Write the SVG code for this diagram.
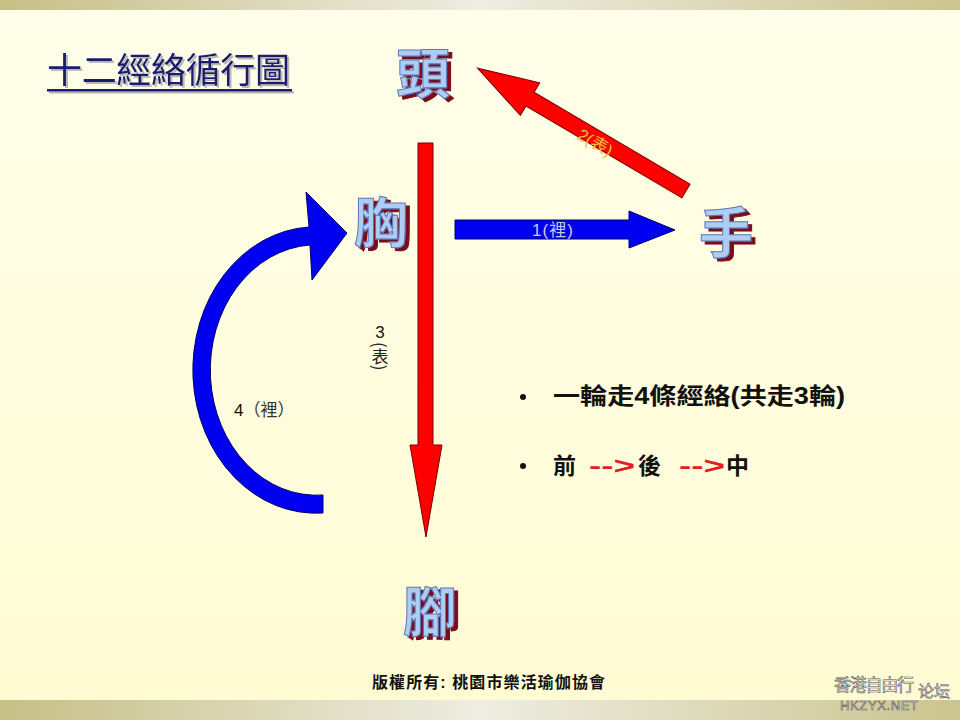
<svg xmlns="http://www.w3.org/2000/svg" width="960" height="720" viewBox="0 0 960 720">
<defs>
<linearGradient id="bg" x1="0" y1="0" x2="0" y2="1">
<stop offset="0" stop-color="#fefeea"/>
<stop offset="1" stop-color="#fffbd2"/>
</linearGradient>
<linearGradient id="bar" x1="0" y1="0" x2="1" y2="0">
<stop offset="0" stop-color="#c6bf86"/>
<stop offset="0.5" stop-color="#eeede2"/>
<stop offset="1" stop-color="#cbc48e"/>
</linearGradient>
<filter id="sh" x="-10%" y="-10%" width="130%" height="130%">
<feOffset dx="1.5" dy="1.5" in="SourceAlpha" result="o"/>
<feFlood flood-color="#8a8a9a" flood-opacity="0.6"/>
<feComposite in2="o" operator="in"/>
<feMerge><feMergeNode/><feMergeNode in="SourceGraphic"/></feMerge>
</filter>
<filter id="redsh" x="-20%" y="-20%" width="150%" height="150%">
<feOffset dx="4" dy="3" in="SourceAlpha" result="o"/>
<feFlood flood-color="#7a0a1e"/>
<feComposite in2="o" operator="in"/>
<feMerge><feMergeNode/><feMergeNode in="SourceGraphic"/></feMerge>
</filter>
</defs>
<style>
.big{font-family:"Noto Sans CJK TC","Noto Sans CJK SC",sans-serif;font-size:54px;font-weight:700;fill:#aecdf2;stroke:#5b78b8;stroke-width:1}
.red{fill:#ff0000;stroke:#7a0000;stroke-width:1}
.blue{fill:#0000f0;stroke:#000070;stroke-width:1}
.lbl{font-family:"Liberation Sans","Noto Sans CJK TC",sans-serif;font-size:17px}
.cjk{font-family:"Noto Sans CJK TC",sans-serif}
.bul{font-family:"Liberation Sans","Noto Sans CJK TC",sans-serif;font-size:23px;font-weight:700;fill:#111}
.dash{fill:#e02020}
</style>
<rect width="960" height="720" fill="url(#bg)"/>
<rect x="0" y="0" width="960" height="10" fill="url(#bar)"/>
<rect x="0" y="700" width="960" height="20" fill="url(#bar)"/>

<g id="title" filter="url(#sh)">
<text x="47" y="83" font-family="Noto Sans CJK TC,sans-serif" font-size="35" fill="#1a1a6c" textLength="243">十二經絡循行圖</text>
<rect x="47" y="89" width="245" height="2.5" fill="#1a1a6c"/>
</g>

<g id="connectors">
<g id="arrow3">
<polygon class="red" points="418,143 433,143 433,445 442,445 426,537 410,445 418,445"/>
<text class="lbl" x="380" y="338" text-anchor="middle" fill="#111">3</text>
<text class="lbl cjk" x="380" y="342" fill="#222" style="writing-mode:vertical-rl" font-size="16">(表)</text>
</g>
<g id="arrow2">
<polygon class="red" transform="translate(686,191) rotate(210.5)" points="0,-8 181,-8 181,-19 242,0 181,19 181,8 0,8"/>
<text class="lbl" transform="translate(595,143) rotate(30.5)" text-anchor="middle" dominant-baseline="central" fill="#f0c040" font-size="18">2(表)</text>
</g>
<g id="arrow1">
<polygon class="blue" points="455,220 629,220 629,211 675,230 629,248 629,239 455,239"/>
<text class="lbl" x="553" y="236" text-anchor="middle" fill="#c8c8e8" font-size="18" letter-spacing="1">1(裡)</text>
</g>
<g id="arrow4">
<path class="blue" d="M 323 513 A 123 143 0 0 1 309 227 L 306 192 L 347 233 L 312 280 L 310 245 A 106 125 0 0 0 323 495 Z"/>
<text class="lbl" x="234" y="416" fill="#111">4<tspan class="cjk" fill="#333">（裡）</tspan></text>
</g>
</g>

<g id="node-head" filter="url(#redsh)">
<text class="big" x="396" y="94">頭</text>
</g>
<g id="node-chest" filter="url(#redsh)">
<text class="big" x="354" y="243">胸</text>
</g>
<g id="node-hand" filter="url(#redsh)">
<text class="big" x="699" y="253">手</text>
</g>
<g id="node-foot" filter="url(#redsh)">
<text class="big" x="403" y="632">腳</text>
</g>

<g id="notes">
<circle cx="523" cy="397" r="3" fill="#111"/>
<text class="bul" x="553" y="404" textLength="292" lengthAdjust="spacingAndGlyphs">一輪走4條經絡(共走3輪)</text>
<circle cx="523" cy="466" r="3" fill="#111"/>
<text class="bul" y="474"><tspan x="553">前</tspan><tspan class="dash" x="589" textLength="46" lengthAdjust="spacingAndGlyphs">--&gt;</tspan><tspan x="638">後</tspan><tspan class="dash" x="679" textLength="46" lengthAdjust="spacingAndGlyphs">--&gt;</tspan><tspan x="726">中</tspan></text>
</g>

<g id="footer">
<text x="372" y="688" font-family="Liberation Sans,Noto Sans CJK TC,sans-serif" font-size="16" font-weight="700" fill="#111" textLength="233">版權所有: 桃園市樂活瑜伽協會</text>
</g>
<g id="watermark" font-family="Noto Sans CJK SC,sans-serif" fill="#ffffff" stroke="#555" stroke-width="0.6">
<text x="834" y="691" font-size="17" textLength="80">香港自由行</text>
<text x="918" y="697" font-size="16">论坛</text>
<text x="840" y="710" font-family="Liberation Sans,sans-serif" font-size="13" textLength="78">HKZYX.NET</text>
</g>
</svg>
